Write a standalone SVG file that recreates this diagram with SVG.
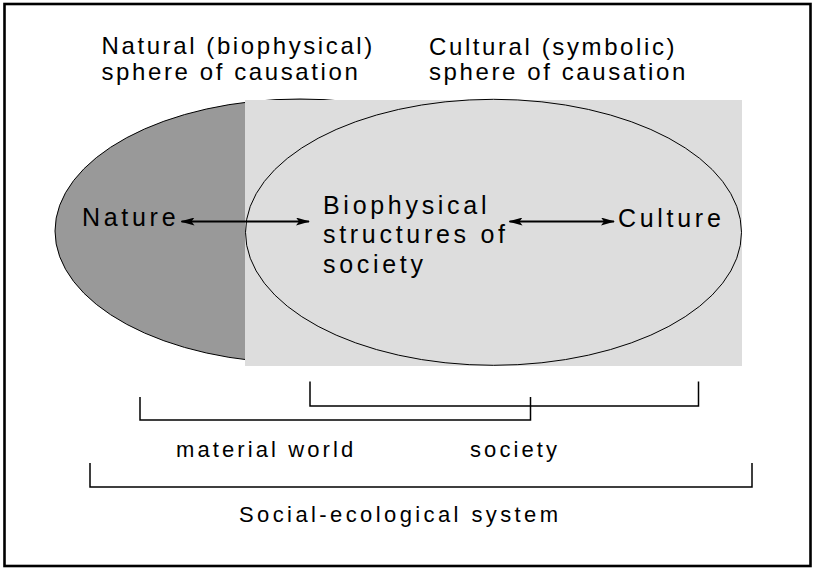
<svg xmlns="http://www.w3.org/2000/svg" width="814" height="568" viewBox="0 0 814 568">
<defs>
<style>
text{font-family:"Liberation Sans",Arial,sans-serif;fill:#000}
.title{font-size:24px;letter-spacing:2.6px}
.mid{font-size:25px;letter-spacing:3.7px}
.low{font-size:22px;letter-spacing:3.1px}
.br{fill:none;stroke:#000;stroke-width:1.5}
.arr{stroke:#000;stroke-width:2;fill:none}
</style>
<marker id="ah" viewBox="0 0 14 8" refX="13" refY="4" markerWidth="14" markerHeight="8" markerUnits="userSpaceOnUse" orient="auto-start-reverse">
<path d="M0,0 L14,4 L0,8 L3,4 Z" fill="#000"/>
</marker>
</defs>
<rect x="4.5" y="4" width="806" height="562" fill="#fff" stroke="#000" stroke-width="2.6"/>
<g id="nature-sphere">
<ellipse cx="300" cy="231" rx="245" ry="132" fill="#999999" stroke="#000" stroke-width="1"/>
</g>
<g id="society-sphere">
<rect x="245" y="100" width="497" height="266" fill="#dddddd"/>
<ellipse cx="493.5" cy="232.3" rx="248" ry="133" fill="#dddddd" stroke="#000" stroke-width="1"/>
</g>
<g id="title-natural">
<text class="title" x="101.5" y="54">Natural (biophysical)</text>
<text class="title" x="101.5" y="79.5">sphere of causation</text>
</g>
<g id="title-cultural">
<text class="title" x="429" y="55">Cultural (symbolic)</text>
<text class="title" x="429" y="79.5">sphere of causation</text>
</g>
<g id="node-nature">
<text class="mid" x="82" y="226">Nature</text>
</g>
<g id="node-biophysical">
<text class="mid" x="323" y="213.5">Biophysical</text>
<text class="mid" x="323" y="243">structures of</text>
<text class="mid" x="323" y="272.5">society</text>
</g>
<g id="node-culture">
<text class="mid" x="618" y="226.5">Culture</text>
</g>
<g id="connectors">
<line class="arr" x1="181.5" y1="221.5" x2="309" y2="221.5" marker-start="url(#ah)" marker-end="url(#ah)"/>
<line class="arr" x1="509.5" y1="221.5" x2="614" y2="221.5" marker-start="url(#ah)" marker-end="url(#ah)"/>
</g>
<g id="bracket-material">
<path class="br" d="M140,397 V420 H530.5 V397"/>
<text class="low" x="176" y="457">material world</text>
</g>
<g id="bracket-society">
<path class="br" d="M310,381.5 V406 H698.5 V381.5"/>
<text class="low" x="470" y="457">society</text>
</g>
<g id="bracket-system">
<path class="br" d="M90,463 V487 H752 V463"/>
<text class="low" x="239" y="522" style="letter-spacing:3.4px">Social-ecological system</text>
</g>
</svg>
